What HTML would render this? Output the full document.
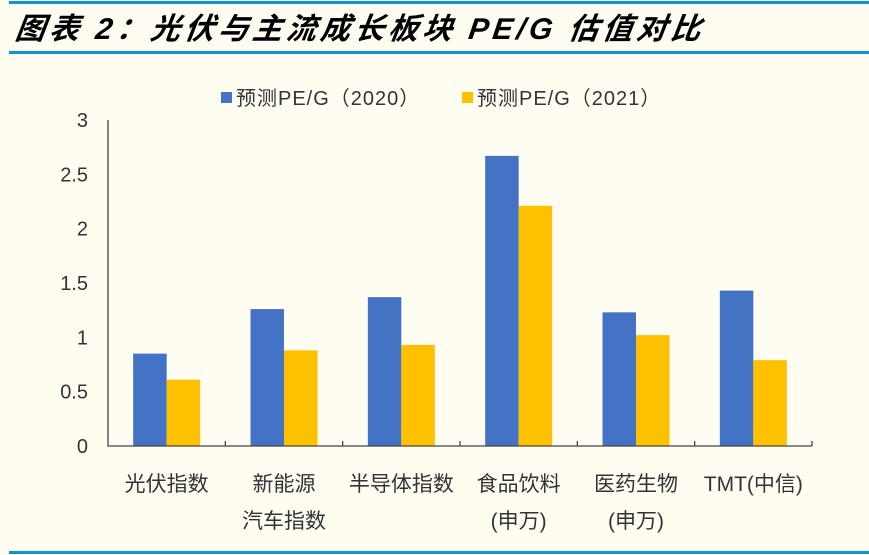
<!DOCTYPE html>
<html><head><meta charset="utf-8"><style>
body{margin:0;background:#fffcf2;}
#wrap{position:relative;width:869px;height:555px;background:#fffcf2;overflow:hidden;font-family:"Liberation Sans","Noto Sans CJK SC",sans-serif;}
.title{position:absolute;left:16px;top:4px;font-size:30px;font-weight:bold;font-style:italic;color:#000;font-family:"Liberation Sans","Noto Sans CJK SC",sans-serif;transform:skewX(-8deg);letter-spacing:4px;white-space:nowrap;}
</style></head><body>
<div id="wrap">
<div style="position:absolute;left:9px;top:1px;width:860px;height:3px;background:#0a96d8"></div>
<div class="title">图表 2：光伏与主流成长板块 PE/G 估值对比</div>
<div style="position:absolute;left:9px;top:51px;width:860px;height:3px;background:#0a96d8"></div>
<div style="position:absolute;left:9px;top:551px;width:860px;height:3px;background:#0a96d8"></div>
<svg id="chart" width="869" height="555" style="position:absolute;left:0;top:0"></svg>
</div>
<script>
const categories=[["光伏指数"],["新能源","汽车指数"],["半导体指数"],["食品饮料","(申万)"],["医药生物","(申万)"],["TMT(中信)"]];
const series2020=[0.85,1.26,1.37,2.67,1.23,1.43];
const series2021=[0.61,0.88,0.93,2.21,1.02,0.79];
const yTicks=[0,0.5,1,1.5,2,2.5,3];
const seriesNames=["预测PE/G（2020）","预测PE/G（2021）"];
const colors=["#4472c4","#ffc000"];
const NS="http://www.w3.org/2000/svg";
const svg=document.getElementById('chart');
const x0=108,x1=812,y0=446,yTop=120;
const band=(x1-x0)/categories.length;
const y=v=>y0-(v/3)*(y0-yTop);
function mk(t,a){const e=document.createElementNS(NS,t);for(const k in a)e.setAttribute(k,a[k]);svg.appendChild(e);return e;}
yTicks.forEach(v=>{const t=mk('text',{x:88,y:y(v)+7,'text-anchor':'end','font-size':20,fill:'#333'});t.textContent=String(v);

});
const bw=33.5;
[series2020,series2021].forEach((s,si)=>{s.forEach((v,i)=>{const cx=x0+band*(i+0.5);
const r=mk('rect',{x:cx-bw+si*bw,y:y(v),width:bw,height:y0-y(v),fill:colors[si]});

});});
const ax=mk('path',{d:`M${x0} ${yTop}V${y0}H${x1}`,stroke:'#444',fill:'none','stroke-width':1.3});


for(let i=1;i<=categories.length;i++){const tk=mk('line',{x1:x0+band*i,x2:x0+band*i,y1:y0,y2:y0-5,stroke:'#444','stroke-width':1.3});

}
categories.forEach((c,i)=>{c.forEach((ln,j)=>{const t=mk('text',{x:x0+band*(i+0.5),y:491+j*37,'text-anchor':'middle','font-size':21,fill:'#333'});t.textContent=ln;

});});
const lx=[221,462];
seriesNames.forEach((n,i)=>{const r=mk('rect',{x:lx[i],y:92,width:11,height:11,fill:colors[i]});


const t=mk('text',{x:lx[i]+15,y:105,'font-size':20,'letter-spacing':1,fill:'#333'});t.textContent=n;

});
</script>
</body></html>
